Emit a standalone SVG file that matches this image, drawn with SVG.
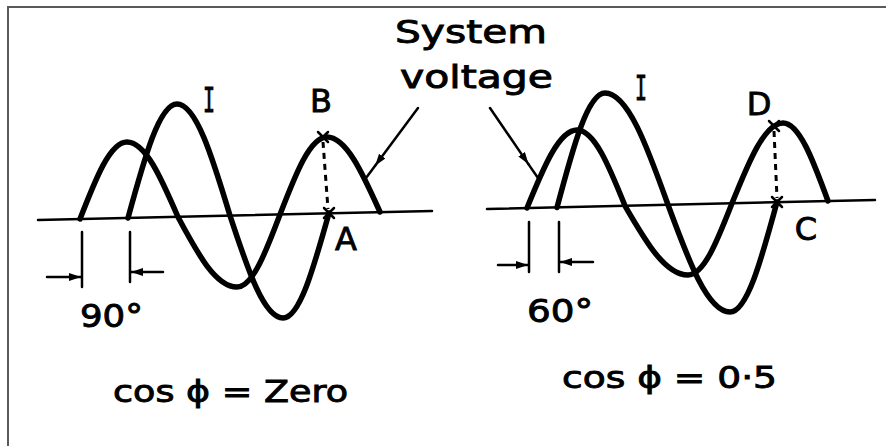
<svg xmlns="http://www.w3.org/2000/svg" width="886" height="446" viewBox="0 0 886 446">
<style>
.frame{fill:none;stroke:#5a5a5a;stroke-width:2}
.axis{fill:none;stroke:#000;stroke-width:2.5;stroke-linecap:round}
.wave{fill:none;stroke:#000;stroke-width:5.5;stroke-linecap:round;stroke-linejoin:round}
.dot{fill:none;stroke:#000;stroke-width:3;stroke-dasharray:6 5}
.mark{fill:none;stroke:#000;stroke-width:2.5;stroke-linecap:round}
.ln{fill:none;stroke:#000;stroke-width:2.5;stroke-linecap:round}
.lbl{font-family:"DejaVu Sans","Liberation Sans",sans-serif;font-size:32px;fill:#000;stroke:#000;stroke-width:0.9}
.big{font-family:"DejaVu Sans","Liberation Sans",sans-serif;font-size:31px;fill:#000;stroke:#000;stroke-width:0.9}
.ii{font-family:"DejaVu Sans Mono","Liberation Mono",monospace;font-size:34px;fill:#000;stroke:#000;stroke-width:0.9}
</style>
<defs>
<marker id="ah" viewBox="0 0 12 8" refX="12" refY="4" markerWidth="12" markerHeight="8" markerUnits="userSpaceOnUse" orient="auto">
<path d="M0,0 L12,4 L0,8 Z" fill="#000"/>
</marker>
</defs>
<rect width="886" height="446" fill="#fff"/>
<path class="frame" d="M8,446 L8,7 L886,7"/>

<g id="left-panel">
<g id="axis-left"><path class="axis" d="M38,220 L432,211"/></g>
<g id="voltage-left"><path class="wave" d="M80,219 C95.7,178.6 110,142 127,142 C145.4,142 161,177.6 178,217 C197.7,253.8 215.7,287 237,287 C252.5,287 265.6,252.6 280,214.5 C295.7,173.8 310,137 327,137 C346.1,137 362.3,172.6 380,212"/></g>
<g id="current-left"><path class="wave" d="M128,218 C144.4,158.1 159.3,104 177,104 C196.1,104 212.3,157 230,215.6 C247.7,269.4 263.9,318 283,318 C299.6,318 313.6,268.1 329,213"/></g>
<g id="point-B"><path class="mark" d="M318,132 L328,142 M328,132 L318,142"/><text class="lbl" x="321" y="112" text-anchor="middle">B</text></g>
<g id="point-A"><path class="mark" d="M324,208 L334,218 M334,208 L324,218"/><text class="lbl" x="346" y="250" text-anchor="middle">A</text></g>
<g id="label-I-left"><text class="ii" x="209" y="112" text-anchor="middle" textLength="12" lengthAdjust="spacingAndGlyphs">I</text></g>
<g id="label-90"><text class="lbl" x="80" y="327" textLength="63" lengthAdjust="spacingAndGlyphs">90°</text></g>
<g id="formula-left"><text class="big" x="113" y="402" textLength="235" lengthAdjust="spacingAndGlyphs">cos ϕ = Zero</text></g>
</g>

<g id="right-panel">
<g id="axis-right"><path class="axis" d="M487,209 L875,200"/></g>
<g id="voltage-right"><path class="wave" d="M527,208 C543.7,167 559,130 577,130 C594.3,130 609,166 625,205.8 C646,242.1 665.3,275 688,275 C703.9,275 717.3,240.9 732,203.3 C749,161.1 764.6,123 783,123 C799.2,123 813,160 828,201"/></g>
<g id="current-right"><path class="wave" d="M557,207.5 C573,147.4 587.7,93 605,93 C627.7,93 647,146.1 668,204.8 C688.7,261.1 707.6,312 730,312 C747,312 761.3,259.8 777,202"/></g>
<g id="point-D"><path class="mark" d="M769,121 L779,131 M779,121 L769,131"/><text class="lbl" x="759" y="115" text-anchor="middle">D</text></g>
<g id="point-C"><path class="mark" d="M772,197 L782,207 M782,197 L772,207"/><text class="lbl" x="806" y="240" text-anchor="middle">C</text></g>
<g id="label-I-right"><text class="ii" x="641" y="100" text-anchor="middle" textLength="12" lengthAdjust="spacingAndGlyphs">I</text></g>
<g id="label-60"><text class="lbl" x="527" y="322" textLength="66" lengthAdjust="spacingAndGlyphs">60°</text></g>
<g id="formula-right"><text class="big" x="562" y="388" textLength="215" lengthAdjust="spacingAndGlyphs">cos ϕ = 0·5</text></g>
</g>

<g id="label-system-voltage">
<text class="lbl" x="395" y="43" textLength="152" lengthAdjust="spacingAndGlyphs">System</text>
<text class="lbl" x="400" y="88" textLength="153" lengthAdjust="spacingAndGlyphs">voltage</text>
</g>

<g id="connectors">
<path class="dot" d="M323,142 L328,209"/>
<path class="dot" d="M774,131 L777,198"/>
<path class="ln" marker-end="url(#ah)" d="M418,108 L375.1,165.8"/>
<path class="ln" d="M375.1,165.8 L366,178"/>
<path class="ln" marker-end="url(#ah)" d="M490,108 L528.4,164.1"/>
<path class="ln" d="M528.4,164.1 L538,178"/>
<path class="ln" d="M82,232 L82,287 M130,232 L130,282"/>
<path class="ln" d="M529,222 L529,272 M559,222 L559,272"/>
<path class="ln" marker-end="url(#ah)" d="M47,277 L81,277"/>
<path class="ln" marker-end="url(#ah)" d="M163,272 L131,272"/>
<path class="ln" marker-end="url(#ah)" d="M498,265 L528,265"/>
<path class="ln" marker-end="url(#ah)" d="M593,262 L560,262"/>
</g>
</svg>
